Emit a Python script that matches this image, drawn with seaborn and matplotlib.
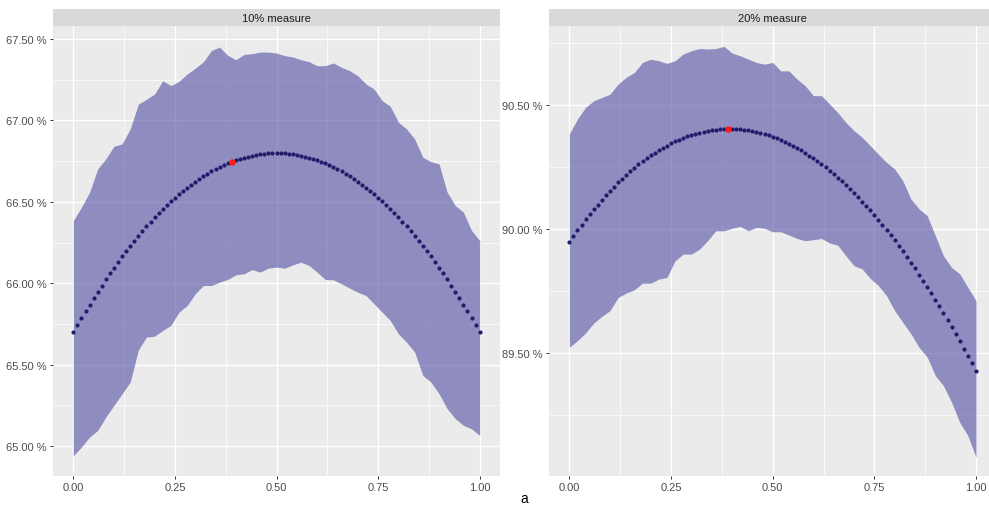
import numpy as np
import pandas as pd
import matplotlib
matplotlib.use("Agg")
import matplotlib.pyplot as plt
import seaborn as sns
from matplotlib.ticker import FixedLocator, FuncFormatter

# ---------------- data ----------------
panel_titles = ["10% measure", "20% measure"]
caption = "a"
best_x = 0.39

x_dots = np.round(np.linspace(0, 1, 101), 2)
x_band = np.round(np.linspace(0, 1, 51), 2)

mean_10 = [
    65.700, 65.744, 65.786, 65.828, 65.869, 65.909, 65.948, 65.986, 66.024, 66.060,
    66.096, 66.131, 66.165, 66.198, 66.230, 66.261, 66.291, 66.321, 66.349, 66.377,
    66.404, 66.430, 66.455, 66.479, 66.503, 66.525, 66.547, 66.567, 66.587, 66.606,
    66.624, 66.641, 66.657, 66.673, 66.687, 66.701, 66.714, 66.726, 66.737, 66.747,
    66.756, 66.764, 66.772, 66.778, 66.784, 66.789, 66.793, 66.796, 66.798, 66.800,
    66.800, 66.800, 66.798, 66.796, 66.793, 66.789, 66.784, 66.778, 66.772, 66.764,
    66.756, 66.747, 66.737, 66.726, 66.714, 66.701, 66.687, 66.673, 66.657, 66.641,
    66.624, 66.606, 66.587, 66.567, 66.547, 66.525, 66.503, 66.479, 66.455, 66.430,
    66.404, 66.377, 66.349, 66.321, 66.291, 66.261, 66.230, 66.198, 66.165, 66.131,
    66.096, 66.060, 66.024, 65.986, 65.948, 65.909, 65.869, 65.828, 65.786, 65.744,
    65.700,
]
upper_10 = [
    66.385, 66.467, 66.559, 66.702, 66.764, 66.841, 66.856, 66.948, 67.100, 67.130,
    67.162, 67.244, 67.214, 67.240, 67.285, 67.320, 67.360, 67.430, 67.450, 67.400,
    67.373, 67.405, 67.410, 67.420, 67.420, 67.414,
    67.398, 67.390, 67.373, 67.361, 67.336, 67.336, 67.353, 67.326, 67.306, 67.275,
    67.224, 67.193, 67.122, 67.087, 66.989, 66.948, 66.886, 66.774, 66.747, 66.733,
    66.559, 66.477, 66.436, 66.324, 66.262,
]
lower_10 = [
    64.940, 64.994, 65.055, 65.096, 65.178, 65.250, 65.321, 65.393, 65.590, 65.669,
    65.675, 65.710, 65.741, 65.822, 65.863, 65.935, 65.986, 65.986, 66.007, 66.023,
    66.052, 66.058, 66.084, 66.068, 66.093, 66.099,
    66.092, 66.113, 66.129, 66.109, 66.068, 66.023, 66.021, 65.996, 65.970, 65.945,
    65.925, 65.874, 65.822, 65.771, 65.689, 65.638, 65.577, 65.434, 65.393, 65.321,
    65.229, 65.168, 65.127, 65.106, 65.065,
]

mean_20 = [
    89.949, 89.972, 89.995, 90.017, 90.039, 90.059, 90.080, 90.099, 90.118, 90.136,
    90.154, 90.171, 90.188, 90.203, 90.219, 90.233, 90.247, 90.261, 90.273, 90.285,
    90.297, 90.308, 90.318, 90.328, 90.337, 90.346, 90.354, 90.361, 90.368, 90.374,
    90.380, 90.385, 90.389, 90.393, 90.396, 90.399, 90.401, 90.403, 90.404, 90.404,
    90.404, 90.403, 90.402, 90.400, 90.398, 90.395, 90.392, 90.387, 90.383, 90.378,
    90.372, 90.366, 90.359, 90.352, 90.344, 90.335, 90.326, 90.317, 90.307, 90.296,
    90.285, 90.273, 90.261, 90.249, 90.235, 90.222, 90.207, 90.193, 90.177, 90.162,
    90.145, 90.129, 90.111, 90.093, 90.075, 90.056, 90.037, 90.017, 89.997, 89.976,
    89.955, 89.933, 89.910, 89.888, 89.864, 89.841, 89.816, 89.792, 89.766, 89.741,
    89.714, 89.688, 89.661, 89.633, 89.605, 89.577, 89.548, 89.518, 89.488, 89.458,
    89.427,
]
upper_20 = [
    90.383, 90.444, 90.491, 90.517, 90.531, 90.544, 90.585, 90.612, 90.632, 90.672,
    90.685, 90.679, 90.668, 90.679, 90.706, 90.719, 90.728, 90.726, 90.728, 90.737,
    90.710, 90.699, 90.685, 90.672, 90.665, 90.672,
    90.638, 90.638, 90.605, 90.578, 90.538, 90.538, 90.504, 90.470, 90.430, 90.397,
    90.370, 90.336, 90.302, 90.269, 90.242, 90.195, 90.121, 90.081, 90.054, 89.973,
    89.892, 89.845, 89.819, 89.765, 89.711,
]
lower_20 = [
    89.523, 89.550, 89.581, 89.621, 89.648, 89.671, 89.724, 89.742, 89.755, 89.782,
    89.782, 89.798, 89.805, 89.872, 89.899, 89.899, 89.919, 89.953, 89.993, 89.993,
    90.003, 90.011, 89.993, 90.007, 90.003, 89.989,
    89.989, 89.976, 89.962, 89.953, 89.957, 89.962, 89.944, 89.935, 89.892, 89.852,
    89.839, 89.801, 89.772, 89.731, 89.671, 89.624, 89.577, 89.523, 89.483, 89.409,
    89.368, 89.301, 89.220, 89.167, 89.079,
]

x_ticks = [0.0, 0.25, 0.5, 0.75, 1.0]
y_ticks_10 = [65.0, 65.5, 66.0, 66.5, 67.0, 67.5]
y_ticks_20 = [89.5, 90.0, 90.5]

# ---------------- style ----------------
sns.set_theme(style="darkgrid")
plt.rcParams["font.family"] = ["Liberation Sans", "DejaVu Sans"]

W, H = 989, 506
fig = plt.figure(figsize=(W / 100, H / 100), dpi=100)
fig.patch.set_facecolor("white")

band_color = (82 / 255, 77 / 255, 163 / 255)
dot_color = "#231C6B"

panels = [
    dict(title=panel_titles[0], mean=mean_10, up=upper_10, lo=lower_10,
         yt=y_ticks_10, ylim=(64.816, 67.58), xlim=(-0.05, 1.05),
         rect=[53, 29, 447, 450]),
    dict(title=panel_titles[1], mean=mean_20, up=upper_20, lo=lower_20,
         yt=y_ticks_20, ylim=(89.004, 90.819), xlim=(-0.05, 1.0319),
         rect=[549, 29, 440, 450]),
]

for p in panels:
    l, b, w, h = p["rect"]
    ax = fig.add_axes([l / W, b / H, w / W, h / H])
    ax.set_facecolor("#EBEBEB")
    for s in ax.spines.values():
        s.set_visible(False)

    df_band = pd.DataFrame({"x": x_band, "lo": p["lo"], "up": p["up"]})
    ax.fill_between(df_band["x"], df_band["lo"], df_band["up"],
                    color=band_color, alpha=0.6, linewidth=0, zorder=2)

    df = pd.DataFrame({"x": x_dots, "y": p["mean"]})
    sns.scatterplot(data=df, x="x", y="y", ax=ax, color=dot_color, s=9,
                    linewidth=0, zorder=3, legend=False)
    best = df[np.isclose(df["x"], best_x)]
    sns.scatterplot(data=best, x="x", y="y", ax=ax, color="#FF1A1A", s=22,
                    linewidth=0, zorder=4, legend=False)

    ax.set_xlim(*p["xlim"])
    ax.set_ylim(*p["ylim"])
    ax.xaxis.set_major_locator(FixedLocator(x_ticks))
    ax.xaxis.set_minor_locator(FixedLocator([0.125, 0.375, 0.625, 0.875]))
    ax.yaxis.set_major_locator(FixedLocator(p["yt"]))
    yt = p["yt"]
    minors = [yt[0] - 0.25] + [v + 0.25 for v in yt]
    ax.yaxis.set_minor_locator(FixedLocator(minors))
    ax.xaxis.set_major_formatter(FuncFormatter(lambda v, pos: f"{v:.2f}"))
    ax.yaxis.set_major_formatter(FuncFormatter(lambda v, pos: f"{v:.2f} %"))
    ax.grid(which="major", color="white", linewidth=1.0, zorder=0)
    ax.grid(which="minor", color="white", linewidth=0.5, zorder=0)
    ax.set_axisbelow(True)
    ax.tick_params(axis="both", which="major", length=2.5, width=0.7,
                   color="#333333", labelcolor="#4D4D4D", labelsize=8, pad=2,
                   left=True, bottom=True)
    ax.tick_params(axis="both", which="minor", length=0)
    ax.set_xlabel("")
    ax.set_ylabel("")

    # facet strip
    sax = fig.add_axes([l / W, (H - 27) / H, w / W if p is panels[0] else 447 / W, 17 / H])
    sax.set_facecolor("#D9D9D9")
    sax.set_xticks([])
    sax.set_yticks([])
    for s in sax.spines.values():
        s.set_visible(False)
    sax.text(0.5, 0.5, p["title"], ha="center", va="center", fontsize=8,
             color="#1A1A1A", transform=sax.transAxes)

fig.text(524 / W, 1 - 499 / H, caption, ha="center", va="center",
         fontsize=10, color="black")

fig.savefig("out.png", dpi=100, facecolor="white")
